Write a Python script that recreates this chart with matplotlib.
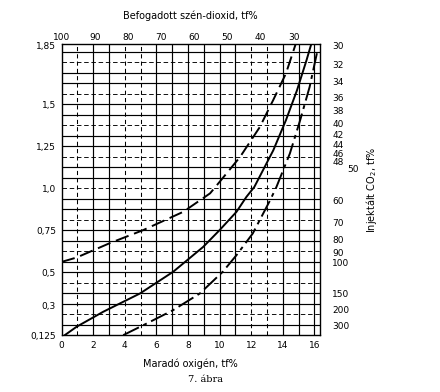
import numpy as np
import matplotlib.pyplot as plt
from matplotlib.transforms import blended_transform_factory

# left axis value L, right axis (injected CO2) = K / L
K = 55.5

# remaining oxygen, tf% (bottom axis) and left-axis value
x_dashed = [0, 0.95, 3.06, 5.16, 7.7, 9.4, 10.0, 11.3, 12.55, 13.4, 14.2, 14.9]
y_dashed = [0.561, 0.587, 0.673, 0.750, 0.859, 0.969, 1.037, 1.186, 1.364, 1.525, 1.682, 1.881]

x_solid = [0.2, 0.95, 2.63, 4.96, 7.06, 8.96, 10.0, 11.07, 11.7, 12.2, 13.4, 14.2, 14.9, 15.5, 15.8]
y_solid = [0.125, 0.175, 0.264, 0.373, 0.502, 0.650, 0.750, 0.859, 0.948, 1.007, 1.225, 1.404, 1.582, 1.760, 1.856]

x_dashdot = [3.9, 5.4, 7.06, 8.75, 10.2, 11.07, 12.1, 13.2, 13.6, 14.45, 15.1, 15.7, 16.2]
y_dashdot = [0.125, 0.195, 0.274, 0.373, 0.502, 0.601, 0.730, 0.928, 1.007, 1.206, 1.404, 1.602, 1.820]

bottom_ticks = [0, 2, 4, 6, 8, 10, 12, 14, 16]
top_ticks = [100, 90, 80, 70, 60, 50, 40, 30]
left_ticks = [0.125, 0.3, 0.5, 0.75, 1.0, 1.25, 1.5, 1.85]
left_labels = ['0,125', '0,3', '0,5', '0,75', '1,0', '1,25', '1,5', '1,85']
right_ticks = [30, 32, 34, 36, 38, 40, 42, 44, 46, 48, 60, 70, 80, 90, 100, 150, 200, 300]

plt.rcParams['font.family'] = ['DejaVu Sans']
fs = 6.5

fig = plt.figure(figsize=(4.4, 3.92), dpi=100)
ax = fig.add_axes([0.140, 0.145, 0.587, 0.742])
ax.set_xlim(0, 16.35)
ax.set_ylim(0.125, 1.856)

# grid
dashed_v = {1, 4, 5, 12, 13}
for xv in range(1, 17):
    if xv in dashed_v:
        ax.axvline(xv, color='black', lw=0.75, ls=(0, (4, 3)), zorder=1)
    else:
        ax.axvline(xv, color='black', lw=0.85, zorder=1)
for k, yv in enumerate(np.arange(0.1875, 1.84, 0.0625)):
    if k % 3 == 1:
        ax.axhline(yv, color='black', lw=0.65, ls=(0, (5, 3)), zorder=1)
    else:
        ax.axhline(yv, color='black', lw=0.85, zorder=1)

# curves
ax.plot(x_dashed, y_dashed, color='black', lw=1.4, ls=(0, (7, 3)), zorder=3)
ax.plot(x_solid, y_solid, color='black', lw=1.4, zorder=3)
ax.plot(x_dashdot, y_dashdot, color='black', lw=1.4, ls=(0, (9, 2.5, 2, 2.5)), zorder=3)

for s in ax.spines.values():
    s.set_linewidth(1.0)

ax.set_xticks(bottom_ticks)
ax.set_xticklabels([str(t) for t in bottom_ticks], fontsize=fs)
ax.set_yticks(left_ticks)
ax.set_yticklabels(left_labels, fontsize=fs)
ax.tick_params(length=0, pad=4)
ax.set_xlabel('Maradó oxigén, tf%', fontsize=fs + 0.5, labelpad=6)


def o2_to_top(x):
    return 100 * (1 - np.asarray(x, float) / 21)


def top_to_o2(t):
    return 21 * (1 - np.asarray(t, float) / 100)


def left_to_right(v):
    v = np.asarray(v, float)
    with np.errstate(divide='ignore', invalid='ignore'):
        return K / v


top = ax.secondary_xaxis('top', functions=(o2_to_top, top_to_o2))
top.set_xticks(top_ticks)
top.set_xticklabels([str(t) for t in top_ticks], fontsize=fs)
top.tick_params(length=0, pad=2)
top.spines['top'].set_visible(False)
top.set_xlabel('Befogadott szén-dioxid, tf%', fontsize=fs + 0.5, labelpad=10)

right = ax.secondary_yaxis('right', functions=(left_to_right, left_to_right))
right.set_yticks(right_ticks)
right.set_yticklabels([str(t) for t in right_ticks], fontsize=fs)
right.tick_params(length=0, pad=9)
right.spines['right'].set_visible(False)
right.set_ylabel('Injektált CO$_2$, tf%', fontsize=fs + 0.5, labelpad=10)

# the crowded "50" label sits out to the right
tr = blended_transform_factory(ax.transAxes, ax.transData)
ax.text(1.105, K / 50, '50', transform=tr, fontsize=fs, va='center', ha='left')

fig.text(0.468, 0.033, '7. ábra', fontsize=7, family='DejaVu Serif', ha='center', va='center')

fig.savefig('out.png', dpi=100)
